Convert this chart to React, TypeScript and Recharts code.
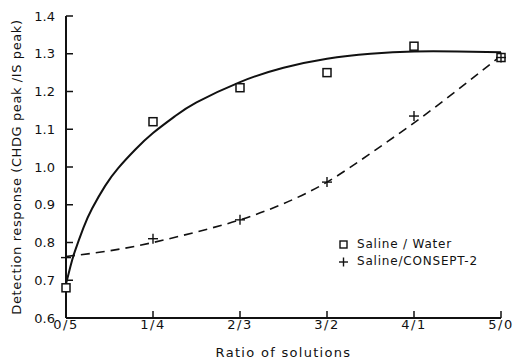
import React from 'react';
import { ComposedChart, Line, Scatter, XAxis, YAxis, Legend } from 'recharts';

// ratio of solutions on the x axis (index 0..5)
const ratioLabels = ['0/5', '1/4', '2/3', '3/2', '4/1', '5/0'];
const salineWater = [0.68, 1.12, 1.21, 1.25, 1.32, 1.29];
const salineConsept = [0.76, 0.81, 0.86, 0.96, 1.135, 1.29];

// fitted curves
const waterFitX = [0, 0.05, 0.1, 0.2, 0.3, 0.45, 0.6, 0.8, 1.0, 1.25, 1.5, 2, 2.5, 3, 3.5, 4, 4.5, 5];
const waterFitY = [0.69, 0.736, 0.775, 0.839, 0.89, 0.95, 0.997, 1.047, 1.09, 1.134, 1.171, 1.225, 1.263, 1.287, 1.3, 1.306, 1.306, 1.304];
const conseptFitX = [0, 0.5, 1, 1.5, 2, 2.5, 3, 3.5, 4, 4.5, 5];
const conseptFitY = [0.763, 0.778, 0.8, 0.828, 0.86, 0.903, 0.96, 1.036, 1.117, 1.204, 1.295];

const yTicks = [0.6, 0.7, 0.8, 0.9, 1.0, 1.1, 1.2, 1.3, 1.4];

const font = '"DejaVu Sans", sans-serif';
const ink = '#111';

const toPoints = (xs: number[], ys: number[]) => xs.map((x, i) => ({ x, y: ys[i] }));

const waterPoints = salineWater.map((y, i) => ({ x: i, y }));
const conseptPoints = salineConsept.map((y, i) => ({ x: i, y }));
const waterFit = toPoints(waterFitX, waterFitY);
const conseptFit = toPoints(conseptFitX, conseptFitY);

const SquareMark = (props: any) => {
  const { cx, cy } = props;
  return <rect x={cx - 4} y={cy - 4} width={8} height={8} fill="#fff" stroke={ink} strokeWidth={1.5} />;
};

const PlusMark = (props: any) => {
  const { cx, cy } = props;
  return (
    <g stroke={ink} strokeWidth={1.4}>
      <line x1={cx - 5} y1={cy} x2={cx + 5} y2={cy} />
      <line x1={cx} y1={cy - 5} x2={cx} y2={cy + 5} />
    </g>
  );
};

const renderLegend = () => (
  <div style={{ fontFamily: font, fontSize: 12, color: ink, lineHeight: '17px', letterSpacing: 0.8 }}>
    <div style={{ display: 'flex', alignItems: 'center' }}>
      <svg width={14} height={12}><rect x={2} y={2} width={7} height={7} fill="none" stroke={ink} strokeWidth={1.4} /></svg>
      <span style={{ marginLeft: 5 }}>Saline / Water</span>
    </div>
    <div style={{ display: 'flex', alignItems: 'center' }}>
      <svg width={14} height={12}>
        <line x1={1} y1={6} x2={10} y2={6} stroke={ink} strokeWidth={1.4} />
        <line x1={5.5} y1={1.5} x2={5.5} y2={10.5} stroke={ink} strokeWidth={1.4} />
      </svg>
      <span style={{ marginLeft: 5 }}>Saline/CONSEPT-2</span>
    </div>
  </div>
);

export default function App() {
  return (
    <div style={{ position: 'absolute', left: 0, top: 0, background: '#fff' }}>
      <ComposedChart width={516} height={360} margin={{ top: 16, right: 15, bottom: 0, left: 0 }}>
        <XAxis
          type="number"
          dataKey="x"
          domain={[0, 5]}
          ticks={[0, 1, 2, 3, 4, 5]}
          tickFormatter={(v: number) => ratioLabels[v]}
          height={42}
          axisLine={{ stroke: ink, strokeWidth: 2 }}
          tickLine={{ stroke: ink, strokeWidth: 1.5 }}
          tickSize={-7}
          tickMargin={9}
          tick={{ fill: ink, fontSize: 13, fontFamily: font, letterSpacing: 1.5 }}
          label={{ value: 'Ratio of solutions', position: 'insideBottom', offset: 3, fill: ink, fontSize: 13, fontFamily: font, letterSpacing: 1.3 }}
        />
        <YAxis
          type="number"
          dataKey="y"
          domain={[0.6, 1.4]}
          ticks={yTicks}
          tickFormatter={(v: number) => v.toFixed(1)}
          width={66}
          axisLine={{ stroke: ink, strokeWidth: 2 }}
          tickLine={{ stroke: ink, strokeWidth: 1.5 }}
          tickSize={-7}
          tickMargin={18}
          tick={{ fill: ink, fontSize: 13, fontFamily: font }}
          label={{ value: 'Detection response (CHDG peak /IS peak)', angle: -90, position: 'insideLeft', offset: 16, fill: ink, fontSize: 13, fontFamily: font, letterSpacing: 0.6, style: { textAnchor: 'middle' } }}
        />
        <Line data={waterFit} dataKey="y" type="natural" stroke={ink} strokeWidth={2} dot={false} isAnimationActive={false} legendType="none" />
        <Line data={conseptFit} dataKey="y" type="natural" stroke={ink} strokeWidth={1.6} strokeDasharray="9 6" dot={false} isAnimationActive={false} legendType="none" />
        <Scatter data={waterPoints} name="Saline / Water" shape={SquareMark} isAnimationActive={false} />
        <Scatter data={conseptPoints} name="Saline/CONSEPT-2" shape={PlusMark} isAnimationActive={false} />
        <Legend
          layout="vertical"
          align="center"
          verticalAlign="middle"
          content={renderLegend}
          wrapperStyle={{ left: 338, top: 236, width: 175 }}
        />
      </ComposedChart>
    </div>
  );
}
